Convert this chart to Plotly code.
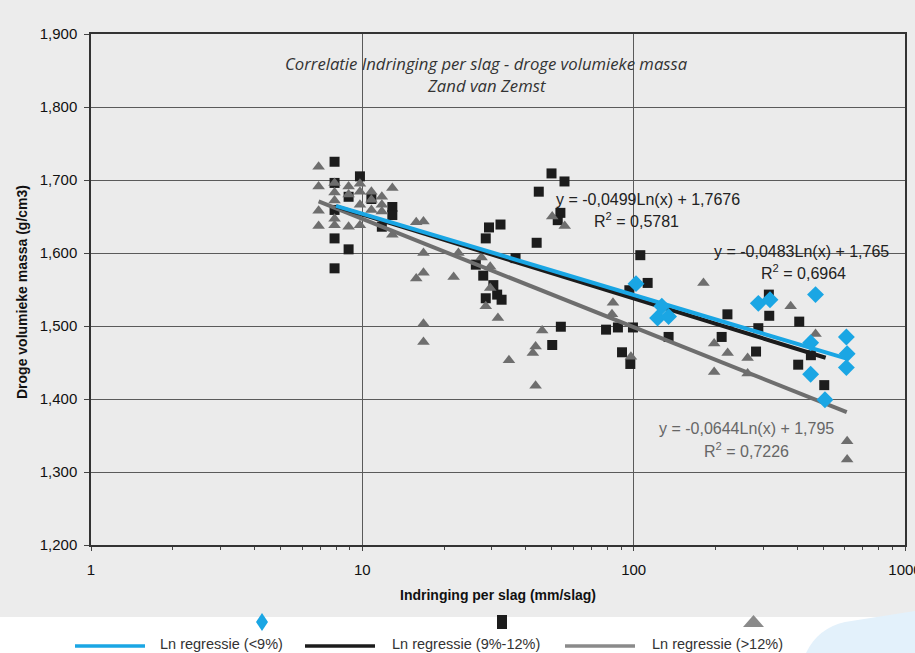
import numpy as np
import plotly.graph_objects as go

# ---------------- data ----------------
lt9_x = [102, 127, 122.5, 134.5, 288, 318, 468, 449, 449, 507, 608, 612, 608]
lt9_y = [1.558, 1.527, 1.511, 1.513, 1.531, 1.536, 1.543, 1.477, 1.434, 1.399, 1.485, 1.462, 1.443]

mid_x = [7.9, 7.9, 7.9, 7.9, 7.9, 8.9, 8.9, 9.8, 10.8, 11.8, 12.9, 12.9,
         29.3, 32.3, 28.5, 26.2, 27.9, 30.4, 28.5, 31.4, 32.6, 36.7,
         49.8, 55.6, 44.7, 53.7, 52.5, 43.9, 53.9, 50.1,
         105.8, 112.6, 96.4, 79.1, 87.5, 99.4, 134.5, 90.6, 97.2,
         315, 221.6, 316, 407.6, 211, 288, 282.5, 404, 504, 450]
mid_y = [1.725, 1.696, 1.659, 1.620, 1.579, 1.677, 1.605, 1.705, 1.674, 1.636, 1.663, 1.652,
         1.635, 1.639, 1.620, 1.584, 1.569, 1.556, 1.538, 1.543, 1.536, 1.593,
         1.709, 1.698, 1.684, 1.655, 1.645, 1.614, 1.499, 1.474,
         1.597, 1.559, 1.549, 1.495, 1.498, 1.498, 1.485, 1.464, 1.448,
         1.543, 1.516, 1.514, 1.506, 1.485, 1.497, 1.465, 1.447, 1.419, 1.460]

gt12_x = [6.9, 6.9, 6.9, 6.9, 7.9, 7.9, 7.9, 7.9, 7.9, 8.9, 8.9, 8.9,
          9.8, 9.8, 9.8, 9.8, 10.8, 10.8, 10.8, 11.8, 11.8, 11.8, 12.9, 12.9,
          15.8, 16.8, 16.8, 16.8, 15.8, 21.7, 22.6, 16.8, 16.8,
          27.5, 29.6, 29.6, 28.5, 31.6, 34.7,
          50.1, 55.7, 46.0, 43.5, 42.5, 43.5,
          83.9, 83.2, 97.7, 180.8, 198, 198,
          379, 468, 222, 263, 263, 612, 612]
gt12_y = [1.718, 1.691, 1.658, 1.637, 1.696, 1.683, 1.672, 1.647, 1.638, 1.691, 1.636, 1.680,
          1.695, 1.684, 1.666, 1.638, 1.684, 1.673, 1.659, 1.677, 1.666, 1.657, 1.689, 1.625,
          1.642, 1.643, 1.600, 1.573, 1.565, 1.567, 1.600, 1.503, 1.478,
          1.594, 1.581, 1.552, 1.527, 1.511, 1.453,
          1.650, 1.637, 1.494, 1.472, 1.463, 1.418,
          1.532, 1.516, 1.458, 1.559, 1.476, 1.437,
          1.527, 1.489, 1.463, 1.456, 1.435, 1.342, 1.317]

# trendlines y = a*ln(x) + b (coefficients as printed on the chart), order: <9%, 9%-12%, >12%
trend_a = [-0.0483, -0.0499, -0.0644]
trend_b = [1.765, 1.7676, 1.795]
trend_xmin = [8.0, 8.0, 6.9]
trend_xmax = [610, 510, 610]
trend_names = ["Ln regressie (<9%)", "Ln regressie (9%-12%)", "Ln regressie (>12%)"]

# equation labels as they appear on the chart (top to bottom)
eq_texts = ["y = -0,0499Ln(x) + 1,7676", "y = -0,0483Ln(x) + 1,765", "y = -0,0644Ln(x) + 1,795"]
r2_texts = ["R<sup>2</sup> = 0,5781", "R<sup>2</sup> = 0,6964", "R<sup>2</sup> = 0,7226"]

y_ticks = [1.2, 1.3, 1.4, 1.5, 1.6, 1.7, 1.8, 1.9]
x_ticks = [1, 10, 100, 1000]
x_ticktext = ["1", "10", "100", "1000"]

# ---------------- styling ----------------
C_BLUE = "#1aa6e4"
C_BLACK = "#1c1c1c"
C_GRAY = "#6e6e6e"
W, H = 915, 653
ML, MR, MT, MB = 91, 10, 34, 108
PW, PH = W - ML - MR, H - MT - MB


def px(xp):
    return (xp - ML) / PW


def py(yp):
    return (H - MB - yp) / PH


fig = go.Figure()

fig.add_trace(go.Scatter(x=mid_x, y=mid_y, mode="markers", name="9%-12%",
                         marker=dict(symbol="square", size=10, color=C_BLACK), showlegend=False))
fig.add_trace(go.Scatter(x=gt12_x, y=gt12_y, mode="markers", name=">12%",
                         marker=dict(symbol="triangle-up", size=11, color=C_GRAY), showlegend=False))

line_colors = [C_BLUE, C_BLACK, C_GRAY]
for i in [2, 1, 0]:
    xs = np.array([trend_xmin[i], trend_xmax[i]])
    ys = trend_a[i] * np.log(xs) + trend_b[i]
    fig.add_trace(go.Scatter(x=xs, y=ys, mode="lines", name=trend_names[i],
                             line=dict(color=line_colors[i], width=4), showlegend=False))

fig.add_trace(go.Scatter(x=lt9_x, y=lt9_y, mode="markers", name="<9%",
                         marker=dict(symbol="diamond", size=13, color=C_BLUE), showlegend=False))

shapes = []
annotations = []

# white legend strip at the bottom
shapes.append(dict(type="rect", xref="paper", yref="paper", x0=px(0), x1=px(W), y0=py(617), y1=py(H),
                   fillcolor="white", line=dict(width=0), layer="below"))
# light blue decorative swoosh
sw = [(806, 653), (818, 628), (845, 622), (915, 611), (915, 653)]
path = "M {} {} Q {} {} {} {} L {} {} L {} {} Z".format(
    px(sw[0][0]), py(sw[0][1]), px(sw[1][0]), py(sw[1][1]), px(sw[2][0]), py(sw[2][1]),
    px(sw[3][0]), py(sw[3][1]), px(sw[4][0]), py(sw[4][1]))
shapes.append(dict(type="path", xref="paper", yref="paper", path=path,
                   fillcolor="#e3f1fb", line=dict(width=0), layer="below"))


def poly(points):
    return "M " + " L ".join("{} {}".format(px(a), py(b)) for a, b in points) + " Z"


# legend keys
shapes.append(dict(type="path", xref="paper", yref="paper",
                   path=poly([(262, 613), (268, 622), (262, 631), (256, 622)]),
                   fillcolor=C_BLUE, line=dict(width=0)))
shapes.append(dict(type="rect", xref="paper", yref="paper", x0=px(497), x1=px(507), y0=py(615), y1=py(629),
                   fillcolor=C_BLACK, line=dict(width=0)))
shapes.append(dict(type="path", xref="paper", yref="paper",
                   path=poly([(743, 627), (764, 627), (753.5, 615)]),
                   fillcolor="#8a8a8a", line=dict(width=0)))

leg_lines = [(75, 145, 158), (305, 375, 390), (565, 635, 650)]
for i, (a, b, t) in enumerate(leg_lines):
    shapes.append(dict(type="line", xref="paper", yref="paper", x0=px(a), x1=px(b), y0=py(646), y1=py(646),
                       line=dict(color=line_colors[i] if i != 2 else "#8a8a8a", width=3.5)))
    annotations.append(dict(xref="paper", yref="paper", x=px(t), y=py(644), xanchor="left", yanchor="middle",
                            text=trend_names[i], showarrow=False,
                            font=dict(family="Liberation Sans Narrow, Liberation Sans, Arial", size=14.5,
                                      color="#333")))

# equations
eq_pos = [((648, 199), (636, 220), "#222"), ((801, 251), (803, 272), "#222"), ((746, 428), (746, 450), "#666")]
for i, ((ex, ey), (rx, ry), col) in enumerate(eq_pos):
    annotations.append(dict(xref="paper", yref="paper", x=px(ex), y=py(ey), xanchor="center", yanchor="middle",
                            text=eq_texts[i], showarrow=False,
                            font=dict(family="Liberation Sans, Arial", size=16, color=col)))
    annotations.append(dict(xref="paper", yref="paper", x=px(rx), y=py(ry), xanchor="center", yanchor="middle",
                            text=r2_texts[i], showarrow=False,
                            font=dict(family="Liberation Sans, Arial", size=16, color=col)))

# title
annotations.append(dict(xref="paper", yref="paper", x=px(486), y=py(63), xanchor="center", yanchor="middle",
                        text="<i>Correlatie Indringing per slag - droge volumieke massa</i>", showarrow=False,
                        font=dict(family="Open Sans", size=16.7, color="#333")))
annotations.append(dict(xref="paper", yref="paper", x=px(486), y=py(85), xanchor="center", yanchor="middle",
                        text="<i>Zand van Zemst</i>", showarrow=False,
                        font=dict(family="Open Sans", size=16.7, color="#333")))
# axis titles
annotations.append(dict(xref="paper", yref="paper", x=px(498), y=py(595), xanchor="center", yanchor="middle",
                        text="<b>Indringing per slag (mm/slag)</b>", showarrow=False,
                        font=dict(family="Liberation Sans, Arial", size=14, color="#111")))
annotations.append(dict(xref="paper", yref="paper", x=px(22), y=py(292), xanchor="center", yanchor="middle",
                        text="<b>Droge volumieke massa (g/cm3)</b>", showarrow=False, textangle=-90,
                        font=dict(family="Liberation Sans, Arial", size=14, color="#111")))

minor_vals = [m * d for d in (1, 10, 100) for m in range(2, 10)]

fig.update_layout(
    width=W, height=H,
    margin=dict(l=ML, r=MR, t=MT, b=MB, pad=0, autoexpand=False),
    paper_bgcolor="#ececec",
    plot_bgcolor="#ebebeb",
    separators=",.",
    showlegend=False,
    shapes=shapes,
    annotations=annotations,
    xaxis=dict(type="log", range=[0, 3], tickmode="array", tickvals=x_ticks, ticktext=x_ticktext,
               showgrid=True, gridcolor="#5a5a5a", gridwidth=1,
               showline=True, linecolor="#333", linewidth=1.5, mirror=True,
               ticks="outside", ticklen=4, tickcolor="#444", ticklabelstandoff=6,
               ticklabeloverflow="allow", automargin=False,
               minor=dict(tickmode="array", tickvals=minor_vals, ticks="outside", ticklen=3,
                          tickcolor="#444", showgrid=False),
               tickfont=dict(family="Liberation Sans, Arial", size=15, color="#111"),
               zeroline=False),
    yaxis=dict(range=[1.2, 1.9], tickmode="array", tickvals=y_ticks, tickformat=".3f",
               showgrid=True, gridcolor="#5a5a5a", gridwidth=1,
               showline=True, linecolor="#333", linewidth=1.5, mirror=True,
               ticks="outside", ticklen=5, tickcolor="#444", ticklabelstandoff=4,
               automargin=False,
               tickfont=dict(family="Liberation Sans, Arial", size=15, color="#111"),
               zeroline=False),
)

fig.write_html("out.html", config={"displayModeBar": False},
               post_script="document.body.style.margin='0';document.body.style.overflow='hidden';")
